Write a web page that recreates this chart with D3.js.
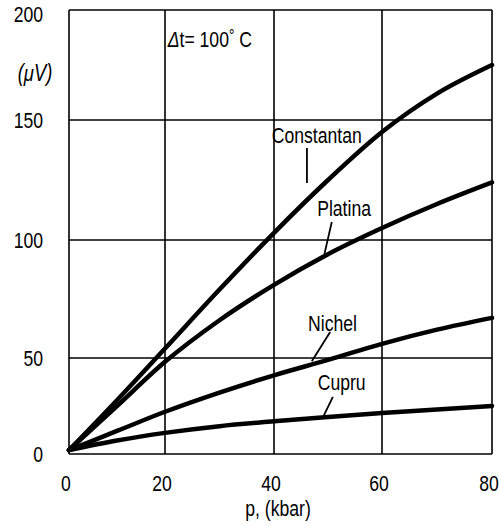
<!DOCTYPE html>
<html>
<head>
<meta charset="utf-8">
<script src="https://cdn.jsdelivr.net/npm/d3@7"></script>
<style>
  body { margin: 0; background: #fff; }
  svg text { font-family: "Liberation Sans", Arial, sans-serif; fill: #000; }
</style>
</head>
<body>
<div id="chart-wrapper"></div>
<script>
// pressure, kbar
const pressures = [0, 10, 20, 30, 40, 50, 60, 70, 80]
// thermo-emf, microvolts (delta t = 100 C)
const constantan = [2, 28, 54, 79, 103, 125, 145, 162, 175]
const platina = [2, 25, 48, 66, 81, 94, 105, 115, 124]
const nichel = [2, 12, 22, 32, 41, 49, 56, 62, 67]
const cupru = [2, 7, 11, 14.5, 17, 19.3, 21.3, 23.2, 25]

const xTicks = [0, 20, 40, 60, 80]
const yTicks = [0, 50, 100, 150, 200]

const seriesNames = ["Constantan", "Platina", "Nichel", "Cupru"]
const seriesValues = [constantan, platina, nichel, cupru]

// label anchor (p, value) and leader line ends, in data units
const labelPos = [[39.6, 140.4], [48, 110], [46.3, 61.4], [48.1, 33.3]]
const leaderFrom = [[46.1, 138.3], [50.7, 107.5], [50.4, 61], [50.9, 29.7]]
const leaderTo = [[46.1, 123.7], [49.3, 93.7], [47, 48.3], [49.1, 19.3]]

// squeeze text sideways, the printed figure uses a condensed face
function narrow(selection, x, y) {
  selection
      .attr("x", 0)
      .attr("y", 0)
      .attr("transform", (d, i) => `translate(${x(d, i)},${y(d, i)}) scale(0.8,1)`)
}

function drawChart() {
  const dimensions = { width: 499, height: 526 }

  // the printed grid is not evenly spaced, so the scales follow it piece by piece
  const xScale = d3.scaleLinear()
      .domain(xTicks)
      .range([69, 165, 274, 382, 492])

  const yScale = d3.scaleLinear()
      .domain(yTicks)
      .range([454, 358, 240, 120, 10])

  const wrapper = d3.select("#chart-wrapper")
    .append("svg")
      .attr("width", dimensions.width)
      .attr("height", dimensions.height)

  const bounds = wrapper.append("g")

  // grid + frame
  bounds.append("g")
    .selectAll("line")
    .data(xTicks)
    .join("line")
      .attr("x1", d => xScale(d))
      .attr("x2", d => xScale(d))
      .attr("y1", yScale(0))
      .attr("y2", yScale(200))
      .attr("stroke", "#000")
      .attr("stroke-width", 1.6)

  bounds.append("g")
    .selectAll("line")
    .data(yTicks)
    .join("line")
      .attr("x1", xScale(0))
      .attr("x2", xScale(80))
      .attr("y1", d => yScale(d))
      .attr("y2", d => yScale(d))
      .attr("stroke", "#000")
      .attr("stroke-width", 1.6)

  // tick labels
  bounds.append("g")
    .selectAll("text")
    .data(xTicks)
    .join("text")
      .attr("text-anchor", "middle")
      .style("font-size", "22px")
      .text(d => d)
      .call(narrow, d => xScale(d) - 3, d => 491)

  bounds.append("g")
    .selectAll("text")
    .data(yTicks)
    .join("text")
      .attr("text-anchor", "end")
      .style("font-size", "22px")
      .text(d => d)
      .call(narrow, d => 43, d => yScale(d) + (d == 200 ? 12 : 8))

  wrapper.append("text")
      .attr("text-anchor", "middle")
      .style("font-size", "22px")
      .text("p, (kbar)")
      .call(narrow, () => 278, () => 516)

  wrapper.append("text")
      .attr("text-anchor", "middle")
      .style("font-size", "23px")
      .style("font-style", "italic")
      .text("(μV)")
      .call(narrow, () => 35, () => 81)

  const dt = bounds.append("text")
      .style("font-size", "22px")
      .call(narrow, () => xScale(20.5), () => yScale(183))
  dt.append("tspan").style("font-style", "italic").text("Δ")
  dt.append("tspan").text("t= 100")
  dt.append("tspan").attr("dy", -6).style("font-size", "17px").text("°")
  dt.append("tspan").attr("dy", 6).text(" C")

  // curves
  const lineGenerator = d3.line()
      .x((d, i) => xScale(pressures[i]))
      .y(d => yScale(d))
      .curve(d3.curveMonotoneX)

  bounds.append("g")
    .selectAll("path")
    .data(seriesValues)
    .join("path")
      .attr("d", d => lineGenerator(d))
      .attr("fill", "none")
      .attr("stroke", "#000")
      .attr("stroke-width", 4.5)
      .attr("stroke-linecap", "round")

  // labels with leader lines
  bounds.append("g")
    .selectAll("text")
    .data(seriesNames)
    .join("text")
      .style("font-size", "22px")
      .text(d => d)
      .call(narrow, (d, i) => xScale(labelPos[i][0]), (d, i) => yScale(labelPos[i][1]))

  bounds.append("g")
    .selectAll("line")
    .data(seriesNames)
    .join("line")
      .attr("x1", (d, i) => xScale(leaderFrom[i][0]))
      .attr("y1", (d, i) => yScale(leaderFrom[i][1]))
      .attr("x2", (d, i) => xScale(leaderTo[i][0]))
      .attr("y2", (d, i) => yScale(leaderTo[i][1]))
      .attr("stroke", "#000")
      .attr("stroke-width", 1.8)
}

drawChart()
</script>
</body>
</html>
